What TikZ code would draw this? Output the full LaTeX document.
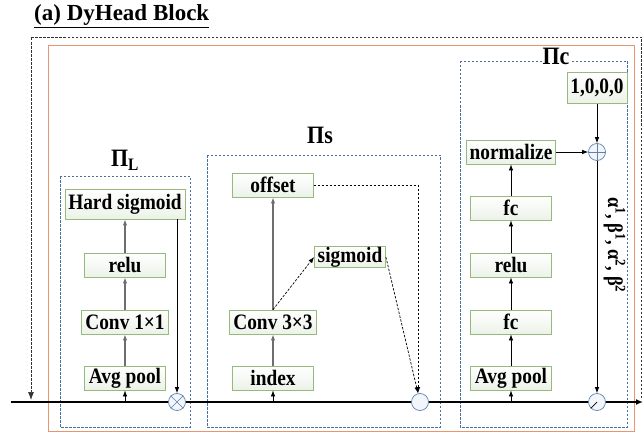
\documentclass[tikz,border=0pt]{standalone}
\usepackage{fontspec}
\setmainfont{Liberation Serif}
\newfontfamily\blockfont{Liberation Serif}[FakeStretch=0.88]
\usetikzlibrary{arrows.meta,positioning}
\definecolor{boxgreen}{RGB}{150,185,125}
\definecolor{boxfill}{RGB}{236,242,232}
\definecolor{piblue}{RGB}{70,110,160}
\definecolor{rimorange}{RGB}{232,150,110}
\definecolor{opblue}{RGB}{95,130,170}
\definecolor{opfill}{RGB}{242,246,251}
\definecolor{linegray}{RGB}{110,110,110}

\begin{document}
\begin{tikzpicture}[x=1pt,y=-1pt,
  blk/.style={draw=boxgreen,line width=0.8pt,top color=white,bottom color=boxfill,
    inner sep=0pt,minimum width=81pt,minimum height=24pt,
    font=\blockfont\bfseries\fontsize{22}{24}\selectfont},
  op/.style={circle,draw=opblue,fill=opfill,line width=0.7pt,minimum size=17pt,inner sep=0pt},
  group/.style={draw=piblue,line width=0.9pt,dash pattern=on 2.5pt off 1.5pt},
  pilabel/.style={font=\blockfont\bfseries\fontsize{25}{27}\selectfont,inner sep=1pt},
  arr/.style={-{Latex[length=6pt,width=4.5pt]},line width=0.7pt},
  garr/.style={arr,draw=linegray,line width=1.2pt},
  darr/.style={arr,dash pattern=on 2.5pt off 1.5pt}
]
\useasboundingbox (0,0) rectangle (643,436);

% title
\node[anchor=west,font=\bfseries\fontsize{23}{26}\selectfont,inner sep=0pt] (title) at (34,16)
  {\underline{(a) DyHead Block}};

% block frame
\draw[rimorange,line width=0.9pt] (48,45) rectangle (634,431);

% groups
\draw[group] (60,176) rectangle (190,427);
\draw[group] (207,155) rectangle (440,427);
\draw[group] (460,61) rectangle (627,427);
\node[pilabel] (piL) at (125,160) {Π\textsubscript{L}};
\node[pilabel] (piS) at (320,135) {Πs};
\node[pilabel,fill=white] (piC) at (556,56) {Πc};

% main feature path and skip path
\coordinate (in) at (11,402);
\coordinate (out) at (643,402);
\coordinate (skipin) at (31,400);
\coordinate (skipout) at (641,398);
\draw[line width=1.6pt,-{Latex[length=7pt,width=6pt]}] (in) -- (out);
\draw[darr,draw=black!80,-{Latex[length=8pt,width=6pt]}] (skipout) -- (641,37) -- (31,37) -- (skipin);

% level-aware branch
\node[blk,minimum width=120pt,minimum height=30pt] (hs) at (125,204) {Hard sigmoid};
\node[blk] (reluL) at (125,265) {relu};
\node[blk,minimum width=87pt] (conv1) at (125,322) {Conv 1×1};
\node[blk] (poolL) at (125,378) {Avg pool};
\node[op] (mul) at (177,402) {};
\draw[opblue,line width=0.7pt] (mul.north east) -- (mul.south west) (mul.north west) -- (mul.south east);
\draw[arr] (poolL.south |- in) -- (poolL.south);
\draw[garr] (poolL) -- (conv1);
\draw[garr] (conv1) -- (reluL);
\draw[garr] (reluL) -- (hs);
\draw[arr] (hs.south -| mul) -- (mul.north);

% spatial-aware branch
\node[blk] (offset) at (273,185) {offset};
\node[blk,minimum width=71pt,minimum height=21pt] (sig) at (350,257) {sigmoid};
\node[blk,minimum width=87pt] (conv3) at (273,322) {Conv 3×3};
\node[blk] (index) at (273,378) {index};
\node[op] (deform) at (420,402) {};
\draw[arr] (index.south |- in) -- (index.south);
\draw[garr] (index) -- (conv3);
\draw[garr] (conv3) -- (offset);
\draw[darr] (conv3.north) -- (sig.west);
\draw[darr] (offset.east) -| ([xshift=-2pt]deform.north);
\draw[darr] (sig.east) -- ([xshift=-2pt]deform.north);

% task-aware branch
\node[blk,minimum width=60pt,minimum height=31pt] (init) at (597,88) {1,0,0,0};
\node[blk,minimum width=89pt] (norm) at (511,152) {normalize};
\node[blk] (fc2) at (511,208) {fc};
\node[blk] (reluC) at (511,265) {relu};
\node[blk] (fc1) at (511,322) {fc};
\node[blk] (poolC) at (511,378) {Avg pool};
\node[op] (add) at (597,152) {};
\draw[opblue,line width=0.7pt] (add.north) -- (add.south) (add.west) -- (add.east);
\node[op] (act) at (597,402) {};
\draw[line width=0.7pt] (act.center) -- (act.south west);
\draw[arr] (poolC.south |- in) -- (poolC.south);
\draw[arr] (poolC) -- (fc1);
\draw[arr] (fc1) -- (reluC);
\draw[arr] (reluC) -- (fc2);
\draw[arr] (fc2) -- (norm);
\draw[arr] (norm) -- (add);
\draw[arr] (init) -- (add);
\draw[arr] (add) -- (act);
\node[rotate=-90,anchor=south,font=\blockfont\bfseries\fontsize{21}{23}\selectfont] (coef) at (600,245)
  {α\textsuperscript{1}, β\textsuperscript{1}, α\textsuperscript{2}, β\textsuperscript{2}};
\end{tikzpicture}
\end{document}
